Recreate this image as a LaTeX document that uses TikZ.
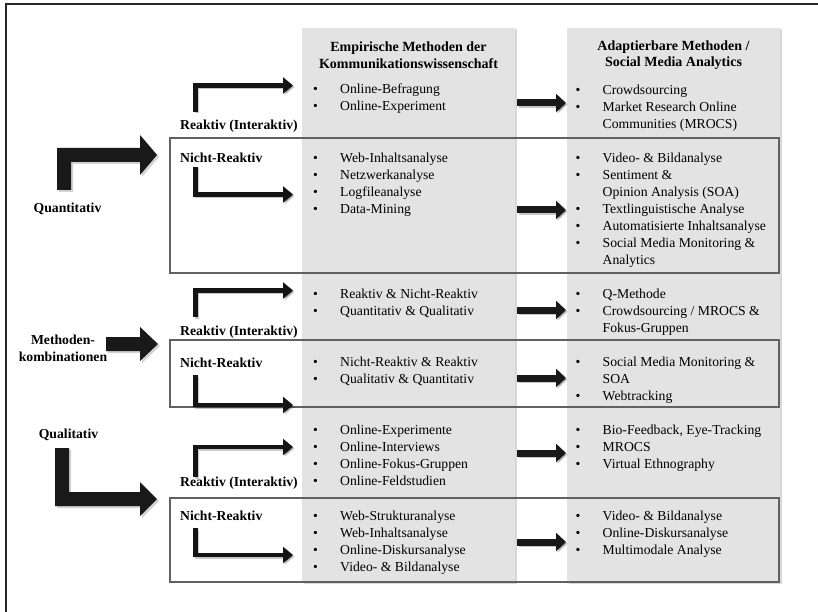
\documentclass[tikz,border=0pt]{standalone}
\usepackage{fontspec}
\setmainfont{Liberation Serif}
\usetikzlibrary{shadows,arrows.meta}
\newcommand{\itemlist}[1]{\begin{tabular}[t]{@{}p{27pt}@{}l@{}}#1\end{tabular}}
\newcommand{\bu}{\textbullet}
\begin{document}
\begin{tikzpicture}[x=1pt,y=-1pt,
  colbg/.style={fill=black!11, drop shadow={opacity=0.3, shadow xshift=1.5pt, shadow yshift=-1.5pt}},
  rowbox/.style={draw=black!62, line width=1.3pt},
  lbl/.style={font=\fontsize{13.7}{17}\selectfont\bfseries, anchor=base west, inner sep=0pt},
  lst/.style={font=\fontsize{13.7}{17}\selectfont, anchor=base west, inner sep=0pt},
  hdr/.style={font=\fontsize{14}{16.5}\selectfont\bfseries, align=center, inner sep=0pt},
  side/.style={font=\fontsize{13.7}{17}\selectfont\bfseries, align=center, inner sep=0pt},
  bigarrow/.style={fill=black!90, drop shadow={opacity=0.35, shadow xshift=2pt, shadow yshift=-2pt}},
  sarrow/.style={line width=4.5pt, draw=black!92, -{Triangle[length=10pt,width=16pt]}},
  sarrowshadow/.style={line width=4.5pt, draw=black, opacity=0.22, -{Triangle[length=10pt,width=16pt]}, transform canvas={shift={(1.5pt,-1.5pt)}}},
  midarrow/.style={line width=7pt, draw=black!90, -{Triangle[length=10pt,width=18pt]}},
  midshadow/.style={line width=7pt, draw=black, opacity=0.22, -{Triangle[length=10pt,width=18pt]}, transform canvas={shift={(1.5pt,-1.5pt)}}}
]
\useasboundingbox (0,0) rectangle (818,612);
\fill[white] (0,0) rectangle (818,612);

% outer frame
\draw[line width=2pt, black!85] (6,612) -- (6,4) -- (818,4);

% gray columns
\path[colbg] (302,28) rectangle (515,582);
\path[colbg] (567,28) rectangle (780,582);

% row boxes
\draw[rowbox] (170,138) rectangle (779,273);
\draw[rowbox] (170,340) rectangle (779,407);
\draw[rowbox] (170,498) rectangle (779,582);

% headers
\node[hdr] (h1) at (408.5,55) {Empirische Methoden der\\Kommunikationswissenschaft};
\node[hdr] (h2) at (673.5,55) {Adaptierbare Methoden /\\Social Media Analytics};

% side labels
\node[side, anchor=base] (quant) at (67.5,212) {Quantitativ};
\node[side] (komb) at (63,348.5) {Methoden-\\kombinationen};
\node[side, anchor=base] (qual) at (68.5,438) {Qualitativ};

% row labels
\node[lbl] (l1) at (180,130) {Reaktiv (Interaktiv)};
\node[lbl] (l2) at (180,162.5) {Nicht-Reaktiv};
\node[lbl] (l3) at (180,335) {Reaktiv (Interaktiv)};
\node[lbl] (l4) at (180,367) {Nicht-Reaktiv};
\node[lbl] (l5) at (180,486) {Reaktiv (Interaktiv)};
\node[lbl] (l6) at (180,520.5) {Nicht-Reaktiv};

% lists column 1
\node[lst] (a1) at (313,94) {\itemlist{\bu & Online-Befragung\\ \bu & Online-Experiment}};
\node[lst] (a2) at (313,162.5) {\itemlist{\bu & Web-Inhaltsanalyse\\ \bu & Netzwerkanalyse\\ \bu & Logfileanalyse\\ \bu & Data-Mining}};
\node[lst] (a3) at (313,298.5) {\itemlist{\bu & Reaktiv \& Nicht-Reaktiv\\ \bu & Quantitativ \& Qualitativ}};
\node[lst] (a4) at (313,366) {\itemlist{\bu & Nicht-Reaktiv \& Reaktiv\\ \bu & Qualitativ \& Quantitativ}};
\node[lst] (a5) at (313,434.5) {\itemlist{\bu & Online-Experimente\\ \bu & Online-Interviews\\ \bu & Online-Fokus-Gruppen\\ \bu & Online-Feldstudien}};
\node[lst] (a6) at (313,520.5) {\itemlist{\bu & Web-Strukturanalyse\\ \bu & Web-Inhaltsanalyse\\ \bu & Online-Diskursanalyse\\ \bu & Video- \& Bildanalyse}};

% lists column 2
\node[lst] (b1) at (575.5,94.5) {\itemlist{\bu & Crowdsourcing\\ \bu & Market Research Online\\ & Communities (MROCS)}};
\node[lst] (b2) at (575.5,162.5) {\itemlist{\bu & Video- \& Bildanalyse\\ \bu & Sentiment \&\\ & Opinion Analysis (SOA)\\ \bu & Textlinguistische Analyse\\ \bu & Automatisierte Inhaltsanalyse\\ \bu & Social Media Monitoring \&\\ & Analytics}};
\node[lst] (b3) at (575.5,298.5) {\itemlist{\bu & Q-Methode\\ \bu & Crowdsourcing / MROCS \&\\ & Fokus-Gruppen}};
\node[lst] (b4) at (575.5,366) {\itemlist{\bu & Social Media Monitoring \&\\ & SOA\\ \bu & Webtracking}};
\node[lst] (b5) at (575.5,434.5) {\itemlist{\bu & Bio-Feedback, Eye-Tracking\\ \bu & MROCS\\ \bu & Virtual Ethnography}};
\node[lst] (b6) at (575.5,520.5) {\itemlist{\bu & Video- \& Bildanalyse\\ \bu & Online-Diskursanalyse\\ \bu & Multimodale Analyse}};

% big arrows
\path[bigarrow] (57,190) -- (57,148) -- (140,148) -- (140,135) -- (157,155) -- (140,175) -- (140,162) -- (71,162) -- (71,190) -- cycle;
\path[bigarrow] (106,337) -- (140,337) -- (140,327) -- (158,344) -- (140,361) -- (140,351) -- (106,351) -- cycle;
\path[bigarrow] (55,448) -- (69,448) -- (69,492) -- (140,492) -- (140,482) -- (157,499) -- (140,516) -- (140,506) -- (55,506) -- cycle;

% small L arrows
\coordinate (s1) at (195.5,112);   \coordinate (e1) at (293,85.5);
\coordinate (s2) at (195.5,167);   \coordinate (e2) at (293,194.5);
\coordinate (s3) at (195.5,317);   \coordinate (e3) at (293,290.5);
\coordinate (s4) at (195.5,375);   \coordinate (e4) at (293,405);
\coordinate (s5) at (195.5,477);   \coordinate (e5) at (293,447);
\coordinate (s6) at (195.5,528);   \coordinate (e6) at (293,555);
\foreach \i in {1,...,6}{
  \draw[sarrowshadow] (s\i) |- (e\i);
  \draw[sarrow] (s\i) |- (e\i);
}

% middle arrows
\foreach \i/\yy in {1/103,2/210,3/310,4/378,5/453,6/542}{
  \coordinate (ms\i) at (517,\yy);
  \coordinate (me\i) at (566,\yy);
  \draw[midshadow] (ms\i) -- (me\i);
  \draw[midarrow] (ms\i) -- (me\i);
}
\end{tikzpicture}
\end{document}
